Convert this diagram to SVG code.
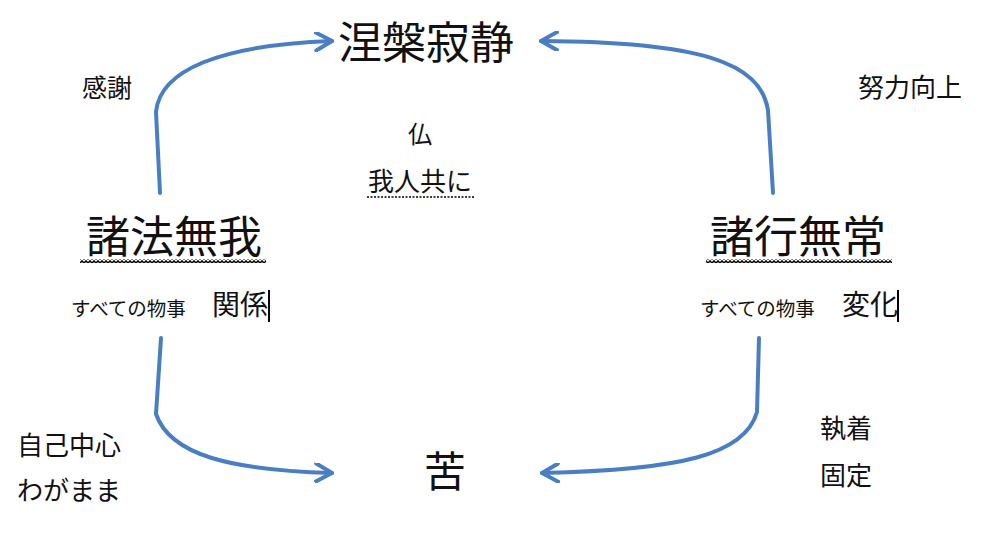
<svg xmlns="http://www.w3.org/2000/svg" width="1000" height="550" viewBox="0 0 1000 550">
  <style>
    text { font-family: "Noto Sans CJK JP", "Noto Sans CJK SC", sans-serif; fill: #111; }
    .big { font-size: 44px; }
    .mid { font-size: 26px; }
    .small { font-size: 19.5px; }
    .conn { fill: none; stroke: #4A7EC2; stroke-width: 4; stroke-linecap: round; stroke-linejoin: round; }
    .cursor { stroke: #000; stroke-width: 2; }
  </style>
  <defs>
    <marker id="arrow" viewBox="0 0 20 20" refX="18" refY="10" markerWidth="20" markerHeight="20" markerUnits="userSpaceOnUse" orient="auto">
      <path d="M2,1 L18,10 L2,19" fill="none" stroke="#4A7EC2" stroke-width="4" stroke-linecap="round" stroke-linejoin="round"/>
    </marker>
    <pattern id="wave" x="0" y="0" width="4" height="4" patternUnits="userSpaceOnUse">
      <path d="M0,3.2 L2,0.8 L4,3.2" fill="none" stroke="#000" stroke-width="1.4"/>
    </pattern>
  </defs>

  <g id="connectors">
    <path class="conn" marker-end="url(#arrow)" d="M160,193 L156,112 C160,70 220,45 332,41"/>
    <path class="conn" marker-end="url(#arrow)" d="M773,193 L768,110 C760,62 700,42 541,41"/>
    <path class="conn" marker-end="url(#arrow)" d="M161,338 L156,414 C170,455 230,470 332,473"/>
    <path class="conn" marker-end="url(#arrow)" d="M759,338 L757,412 C745,455 680,470 542,473"/>
  </g>

  <g id="nirvana">
    <text class="big" x="426" y="59" text-anchor="middle">涅槃寂静</text>
  </g>

  <g id="shohomuga">
    <text class="big" x="174" y="253" text-anchor="middle">諸法無我</text>
    <rect x="80" y="259" width="186" height="4" fill="url(#wave)"/>
    <text class="small" x="71" y="316">すべての物事</text>
    <text style="font-size:28px" x="212" y="315">関係</text>
    <line class="cursor" x1="269" y1="290" x2="269" y2="322"/>
  </g>

  <g id="shogyomujo">
    <text class="big" x="798" y="253" text-anchor="middle">諸行無常</text>
    <rect x="706" y="259" width="186" height="4" fill="url(#wave)"/>
    <text class="small" x="700" y="316">すべての物事</text>
    <text style="font-size:28px" x="842" y="315">変化</text>
    <line class="cursor" x1="898" y1="290" x2="898" y2="322"/>
  </g>

  <g id="ku">
    <text style="font-size:42px" x="445" y="487" text-anchor="middle">苦</text>
  </g>

  <g id="hotoke">
    <text style="font-size:24px" x="420" y="143" text-anchor="middle">仏</text>
    <text class="mid" x="420" y="191" text-anchor="middle">我人共に</text>
    <line x1="367" y1="197" x2="475" y2="197" stroke="#000" stroke-width="1.5" stroke-dasharray="2,1.5"/>
  </g>

  <g id="kansha">
    <text style="font-size:25px" x="107" y="97" text-anchor="middle">感謝</text>
  </g>

  <g id="doryoku">
    <text class="mid" x="910" y="97" text-anchor="middle">努力向上</text>
  </g>

  <g id="jikochushin">
    <text class="mid" x="17" y="455">自己中心</text>
    <text class="mid" x="17" y="500">わがまま</text>
  </g>

  <g id="shuchaku">
    <text class="mid" x="820" y="438">執着</text>
    <text class="mid" x="820" y="485">固定</text>
  </g>
</svg>
